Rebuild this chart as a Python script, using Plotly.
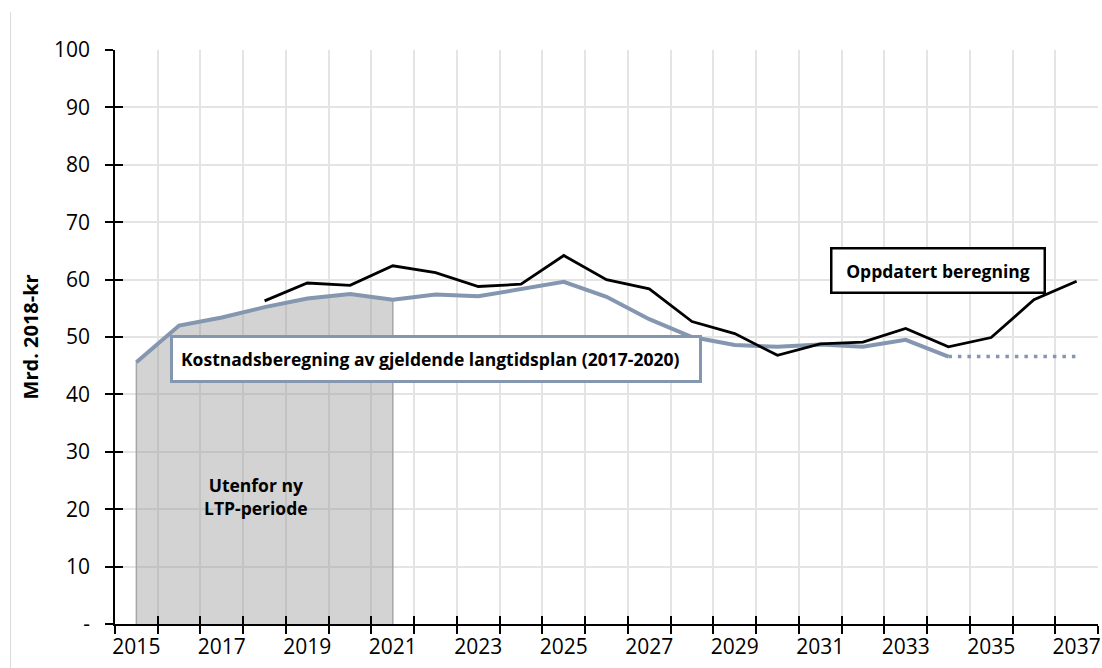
import plotly.graph_objects as go

years = list(range(2015, 2038))
# Kostnadsberegning av gjeldende langtidsplan (2017-2020)
ltp_old = [45.6, 52.0, 53.4, 55.2, 56.7, 57.5, 56.5, 57.4, 57.1, 58.4, 59.6, 57.0,
           53.1, 50.0, 48.6, 48.3, 48.7, 48.3, 49.5, 46.6, None, None, None]
# dotted continuation
ltp_old_ext = [None] * 19 + [46.6, 46.6, 46.6, 46.6]
# Oppdatert beregning
updated = [None, None, None, 56.3, 59.4, 59.0, 62.4, 61.2, 58.8, 59.2, 64.2, 60.0,
           58.4, 52.7, 50.6, 46.8, 48.8, 49.1, 51.5, 48.3, 49.9, 56.5, 59.7]
# Utenfor ny LTP-periode (2015-2021)
shade_years = years[:7]
shade_vals = ltp_old[:7]

y_ticks = list(range(0, 101, 10))
y_ticktext = ["-"] + [str(v) for v in y_ticks[1:]]
x_ticks = list(range(2015, 2038, 2))
x_ticktext = [str(v) for v in x_ticks]
x_bounds = [y + 0.5 for y in range(2014, 2038)]

FONT = "Open Sans"
BLUE = "#8496b0"

fig = go.Figure()

fig.add_trace(go.Scatter(
    x=[shade_years[0]] + shade_years + [shade_years[-1]],
    y=[0] + shade_vals + [0],
    fill="toself", fillcolor="rgba(150,150,150,0.42)",
    line=dict(color="#a6a6a6", width=1.5), mode="lines",
    hoverinfo="skip", showlegend=False))

fig.add_trace(go.Scatter(x=years, y=ltp_old, mode="lines",
                         line=dict(color=BLUE, width=4), showlegend=False))
fig.add_trace(go.Scatter(x=years, y=ltp_old_ext, mode="lines",
                         line=dict(color=BLUE, width=3.5, dash="3.5px,6px"),
                         showlegend=False))
fig.add_trace(go.Scatter(x=years, y=updated, mode="lines",
                         line=dict(color="#000000", width=2.8), showlegend=False))

# invisible trace for cross-tick overlay axes
fig.add_trace(go.Scatter(x=[2020], y=[50], xaxis="x2", yaxis="y2", mode="markers",
                         marker=dict(opacity=0), hoverinfo="skip", showlegend=False))

fig.update_layout(
    width=1102, height=668,
    margin=dict(l=115, r=1, t=50, b=44),
    paper_bgcolor="white", plot_bgcolor="white",
    font=dict(family=FONT, color="#000000"),
    xaxis=dict(range=[2014.5, 2037.5], tickmode="array", tickvals=x_ticks,
               ticktext=x_ticktext, ticks="", showgrid=False, zeroline=False,
               showline=True, linecolor="#000000", linewidth=1.5,
               tickfont=dict(size=21, family=FONT), ticklabelstandoff=3,
               ticklabeloverflow="allow",
               minor=dict(tickmode="array", tickvals=x_bounds, ticks="outside",
                          ticklen=8, tickwidth=1.5, tickcolor="#000000",
                          showgrid=True, gridcolor="#e4e4e4", gridwidth=1.5)),
    yaxis=dict(range=[0, 100], tickmode="array", tickvals=y_ticks,
               ticktext=y_ticktext, ticks="outside", ticklen=8, tickwidth=1.5,
               tickcolor="#000000", showgrid=True, gridcolor="#e4e4e4",
               gridwidth=1.5, zeroline=False, showline=True,
               linecolor="#000000", linewidth=1.5,
               tickfont=dict(size=21, family=FONT), ticklabelstandoff=11),
    xaxis2=dict(overlaying="x", range=[2014.5, 2037.5], tickmode="array",
                tickvals=x_bounds, ticks="inside", ticklen=8, tickwidth=1.5,
                tickcolor="#000000", showticklabels=False, showgrid=False,
                zeroline=False, showline=False, side="bottom"),
    yaxis2=dict(overlaying="y", range=[0, 100], tickmode="array",
                tickvals=y_ticks, ticks="inside", ticklen=8, tickwidth=1.5,
                tickcolor="#000000", showticklabels=False, showgrid=False,
                zeroline=False, showline=False, side="left"),
    annotations=[
        dict(x=2022.0, y=46.2, xref="x", yref="y",
             text="<b>Kostnadsberegning av gjeldende langtidsplan (2017-2020)</b>",
             showarrow=False, font=dict(size=17.5, family=FONT, color="#000000"),
             bgcolor="white", bordercolor=BLUE, borderwidth=3, borderpad=8,
             width=510, height=26, align="left", xanchor="center", yanchor="middle"),
        dict(x=2033.76, y=61.6, xref="x", yref="y",
             text="<b>Oppdatert beregning</b>",
             showarrow=False, font=dict(size=17.5, family=FONT, color="#000000"),
             bgcolor="white", bordercolor="#000000", borderwidth=2.5, borderpad=8,
             width=195, height=26, align="center", xanchor="center", yanchor="middle"),
        dict(x=2017.81, y=22.2, xref="x", yref="y",
             text="<b>Utenfor ny<br>LTP-periode</b>", showarrow=False,
             font=dict(size=17.5, family=FONT, color="#000000"), align="center"),
        dict(x=-0.086, y=0.5, xref="paper", yref="paper",
             text="<b>Mrd. 2018-kr</b>", textangle=-90, showarrow=False,
             font=dict(size=20, family=FONT, color="#000000"),
             xanchor="center", yanchor="middle"),
    ],
    shapes=[dict(type="line", xref="paper", yref="paper",
                 x0=-0.1062, x1=-0.1062, y0=-0.08, y1=1.066,
                 line=dict(color="#d9d9d9", width=1))],
)

fig.write_html("out.html")
